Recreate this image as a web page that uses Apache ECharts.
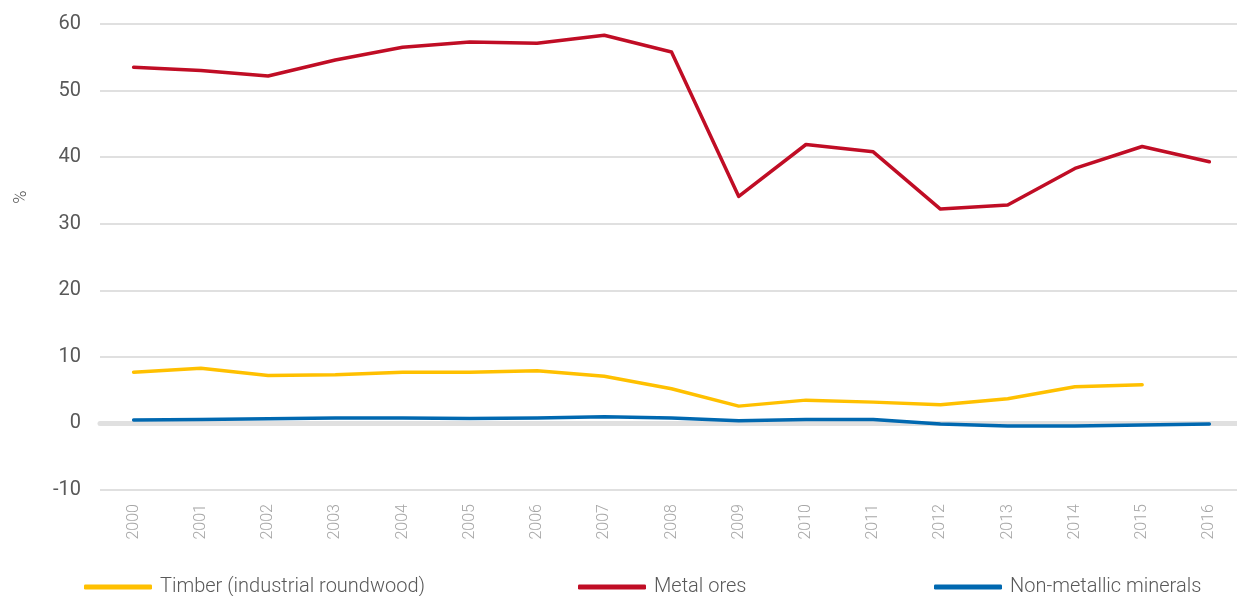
<!DOCTYPE html>
<html>
<head>
<meta charset="utf-8">
<script src="https://cdn.jsdelivr.net/npm/echarts@6/dist/echarts.min.js"></script>
<style>html,body{margin:0;padding:0;background:#fff}#c{width:1237px;height:596px}</style>
</head>
<body>
<div id="c"></div>
<script>
const years = ['2000','2001','2002','2003','2004','2005','2006','2007','2008','2009','2010','2011','2012','2013','2014','2015','2016'];
const timber = [7.7, 8.3, 7.2, 7.3, 7.7, 7.7, 7.9, 7.1, 5.2, 2.6, 3.5, 3.2, 2.8, 3.7, 5.5, 5.8, null];
const metalOres = [53.5, 53.0, 52.2, 54.6, 56.5, 57.3, 57.1, 58.3, 55.8, 34.1, 41.9, 40.8, 32.2, 32.8, 38.3, 41.6, 39.3];
const nonMetallic = [0.5, 0.6, 0.7, 0.8, 0.8, 0.75, 0.8, 1.0, 0.8, 0.4, 0.6, 0.6, -0.1, -0.4, -0.4, -0.25, -0.1];
const yTicks = {min: -10, max: 60, interval: 10};
const names = ['Timber (industrial roundwood)', 'Metal ores', 'Non-metallic minerals'];
const colors = ['#ffc000', '#c00d25', '#0068b0'];

const font = "Roboto, 'Open Sans', sans-serif";
const chart = echarts.init(document.getElementById('c'));
function lg(i, left) {
  return {
    data: [names[i]], left: left, top: 572, orient: 'horizontal',
    icon: 'roundRect', itemWidth: 68, itemHeight: 5,
    textStyle: {fontFamily: font, fontWeight: 300, fontSize: 20, color: '#595959', padding: [0,0,0,3]},
    selectedMode: false
  };
}
function ser(i, data) {
  return {
    name: names[i], type: 'line', data: data, symbol: 'none', z: 3,
    lineStyle: {color: colors[i], width: 3.5, cap: 'round', join: 'round'},
    itemStyle: {color: colors[i]}
  };
}
chart.setOption({
  animation: false,
  grid: {left: 100, top: 24, width: 1143, height: 466, containLabel: false, outerBoundsMode: 'none'},
  legend: [lg(0, 79), lg(1, 573), lg(2, 929)],
  xAxis: [{
    type: 'category', data: years, boundaryGap: true,
    axisLine: {show: false, onZero: false}, axisTick: {show: false},
    axisLabel: {rotate: 90, margin: 14, fontFamily: font, fontWeight: 300, fontSize: 16, color: '#a6a6a6'}
  }, {
    type: 'category', data: years, boundaryGap: true, position: 'bottom',
    axisLine: {show: true, onZero: true, lineStyle: {color: '#e0e0e0', width: 5}},
    axisTick: {show: false}, axisLabel: {show: false}
  }],
  yAxis: {
    type: 'value', min: yTicks.min, max: yTicks.max, interval: yTicks.interval,
    axisLine: {show: false}, axisTick: {show: false},
    axisLabel: {margin: 19, fontFamily: font, fontWeight: 400, fontSize: 20, color: '#595959'},
    splitLine: {lineStyle: {color: '#e0e0e0', width: 2}}
  },
  graphic: [{
    type: 'text', x: 21, y: 197, rotation: Math.PI / 2,
    style: {text: '%', fontFamily: font, fontWeight: 300, fontSize: 18, fill: '#595959', textAlign: 'center', textVerticalAlign: 'middle'}
  }],
  series: [ser(0, timber), ser(1, metalOres), ser(2, nonMetallic)]
});
</script>
</body>
</html>
